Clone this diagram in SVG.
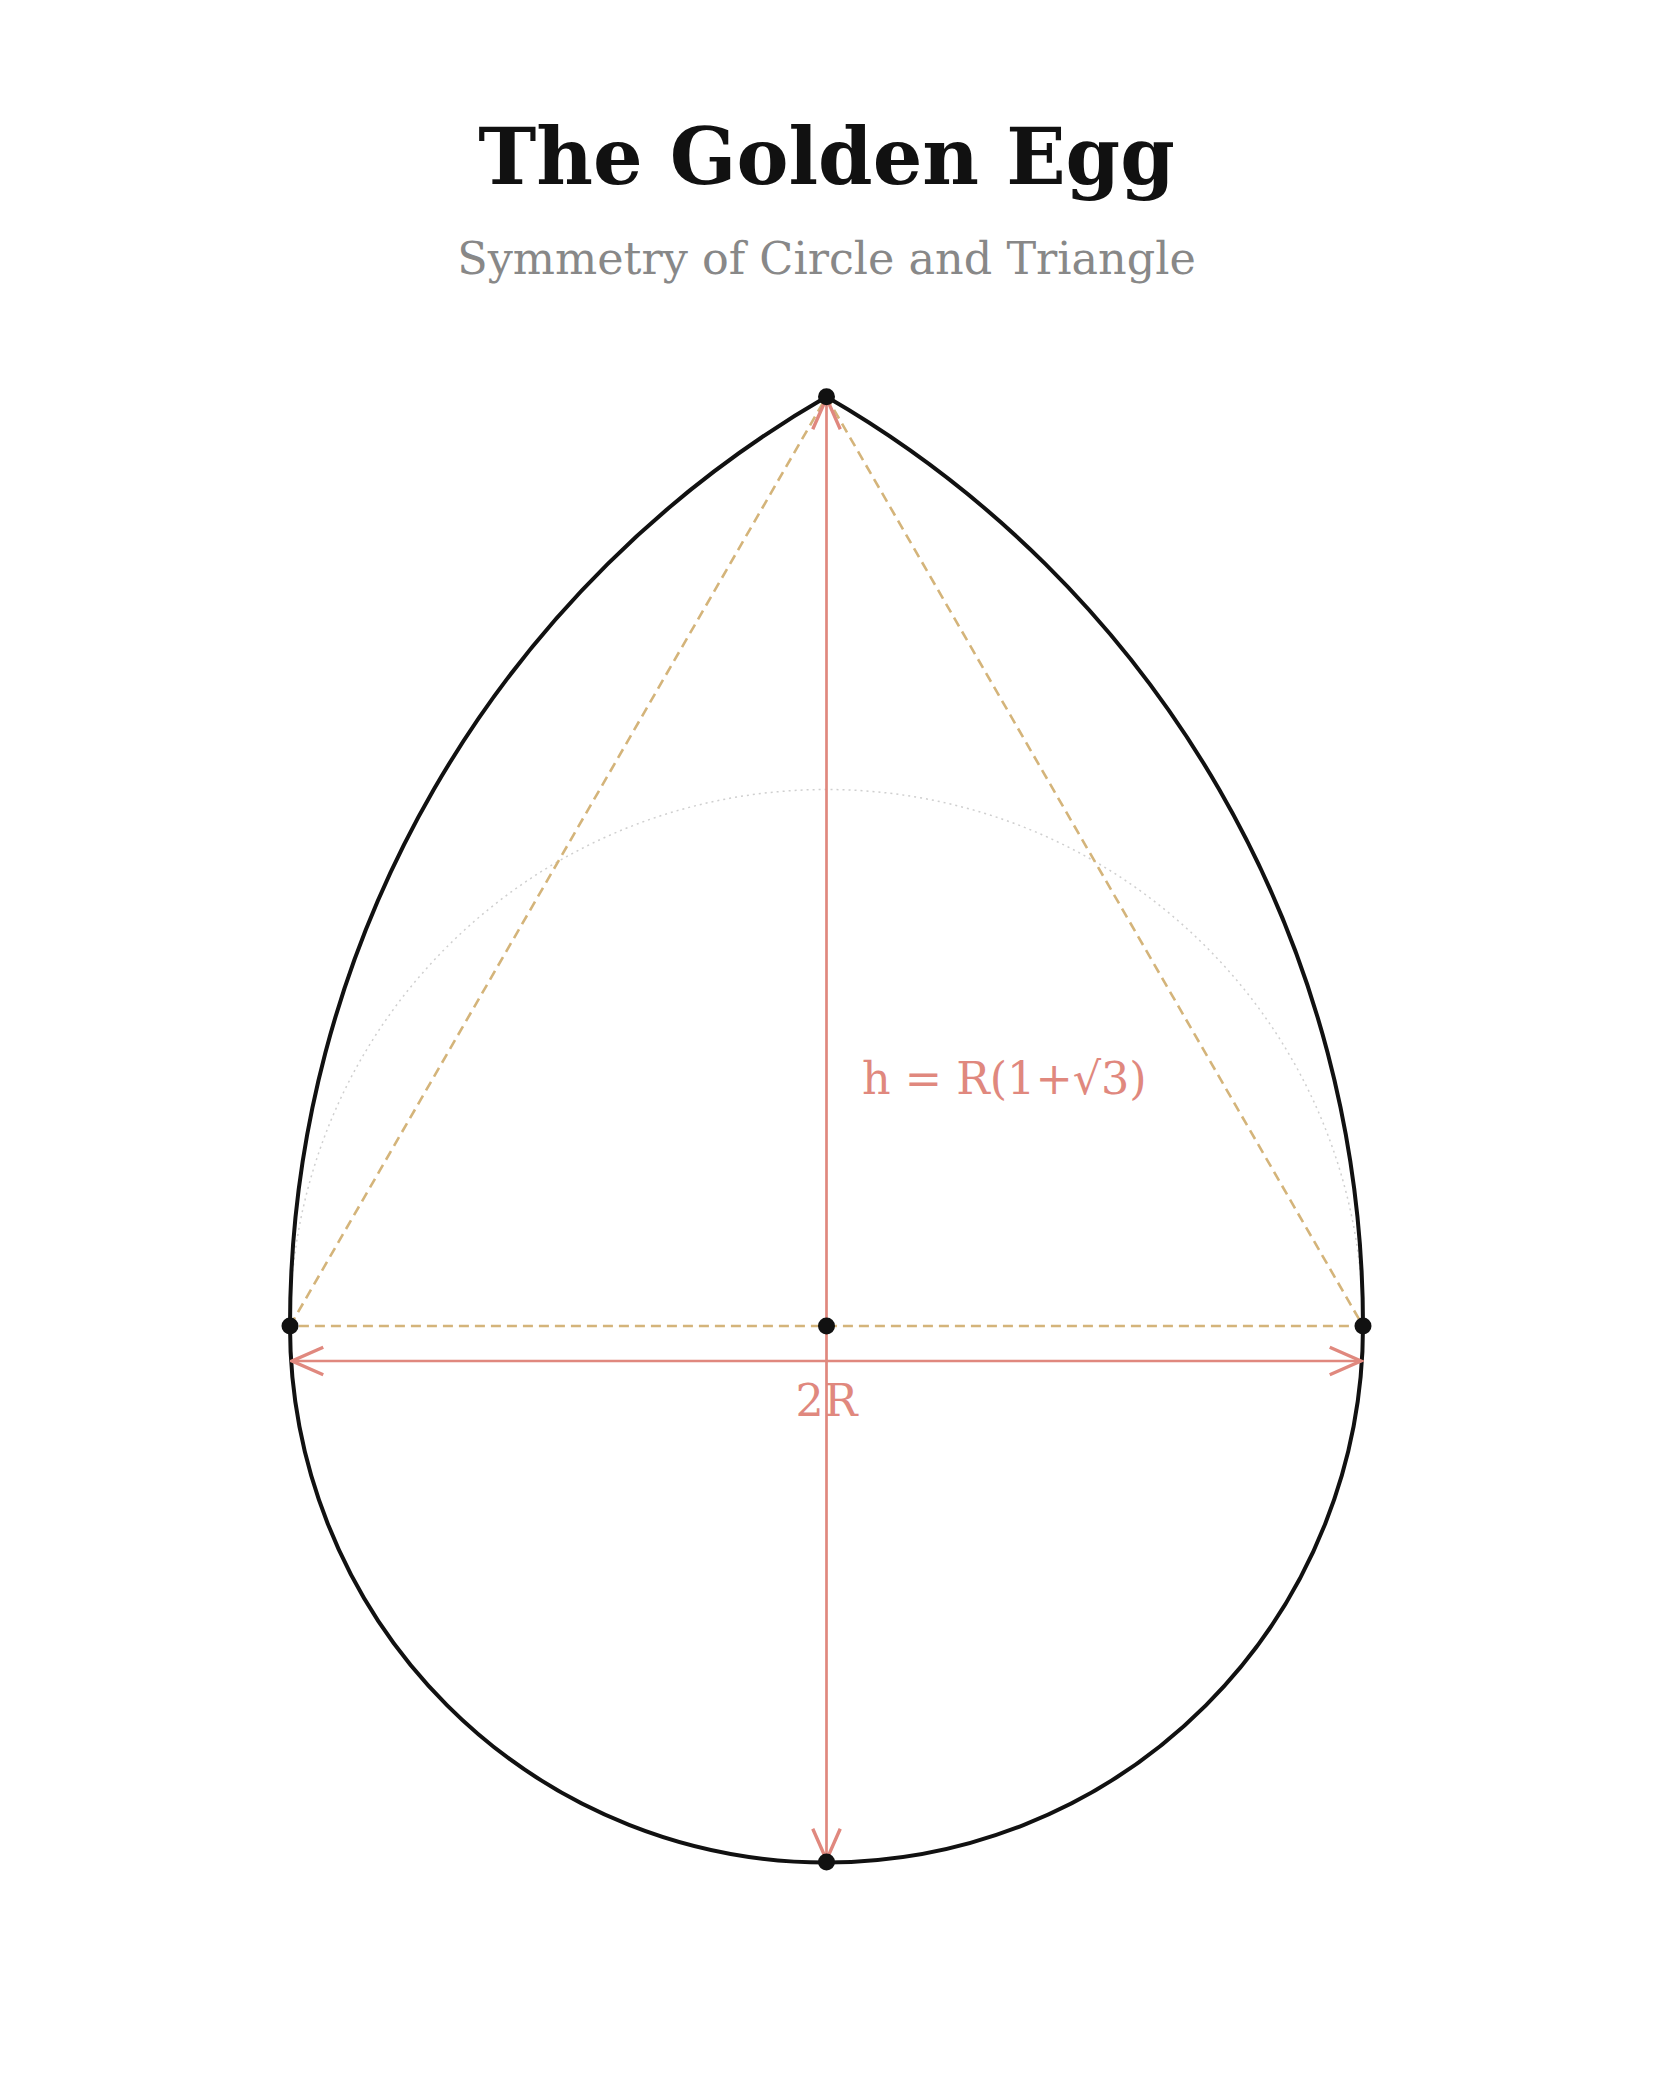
<svg xmlns="http://www.w3.org/2000/svg" width="1653" height="2081" viewBox="0 0 1653 2081">
<style>
.title{font-family:"DejaVu Serif","Liberation Serif",serif;font-weight:bold;font-size:78px;fill:#111;text-anchor:middle}
.sub{font-family:"DejaVu Serif","Liberation Serif",serif;font-size:44.5px;fill:#888;text-anchor:middle}
.lbl{font-family:"DejaVu Serif","Liberation Serif",serif;font-size:44.5px;fill:#E0887E}
.egg{fill:none;stroke:#111;stroke-width:4}
.tri{fill:none;stroke:#D4B47A;stroke-width:2.6;stroke-dasharray:10 6}
.guide{fill:none;stroke:#cfcfcf;stroke-width:1.5;stroke-dasharray:2 4}
.dim{fill:none;stroke:#E0887E;stroke-width:2.7}
.dot{fill:#111}
</style>
<defs>
<marker id="arr" markerUnits="userSpaceOnUse" markerWidth="40" markerHeight="40" viewBox="-30 -15 32 30" refX="0" refY="0" orient="auto-start-reverse">
<path d="M -25 -11 L 0 0 L -25 11" fill="none" stroke="#E0887E" stroke-width="2.7"/>
</marker>
</defs>
<rect width="1653" height="2081" fill="#fff"/>
<text class="title" x="826.5" y="184">The Golden Egg</text>
<text class="sub" x="826.5" y="274">Symmetry of Circle and Triangle</text>
<g id="guide-circle">
<circle class="guide" cx="826.5" cy="1326" r="536.5"/>
</g>
<g id="triangle">
<path class="tri" d="M 290 1326 L 826.5 396.8 L 1363 1326 Z"/>
</g>
<g id="egg">
<path class="egg" d="M 290 1326 A 1073 1073 0 0 1 826.5 396.8 A 1073 1073 0 0 1 1363 1326 A 536.5 536.5 0 0 1 290 1326 Z"/>
</g>
<g id="connectors">
<line class="dim" x1="826.5" y1="398" x2="826.5" y2="1860" marker-start="url(#arr)" marker-end="url(#arr)"/>
<line class="dim" x1="292" y1="1361" x2="1361" y2="1361" marker-start="url(#arr)" marker-end="url(#arr)"/>
</g>
<g id="points">
<circle class="dot" cx="826.5" cy="396.8" r="8.5"/>
<circle class="dot" cx="290" cy="1326" r="8.5"/>
<circle class="dot" cx="1363" cy="1326" r="8.5"/>
<circle class="dot" cx="826.5" cy="1326" r="8.5"/>
<circle class="dot" cx="826.5" cy="1862" r="8.5"/>
</g>
<g id="labels">
<text class="lbl" x="862" y="1094">h = R(1+√3)</text>
<text class="lbl" x="826.5" y="1416" text-anchor="middle">2R</text>
</g>
</svg>
